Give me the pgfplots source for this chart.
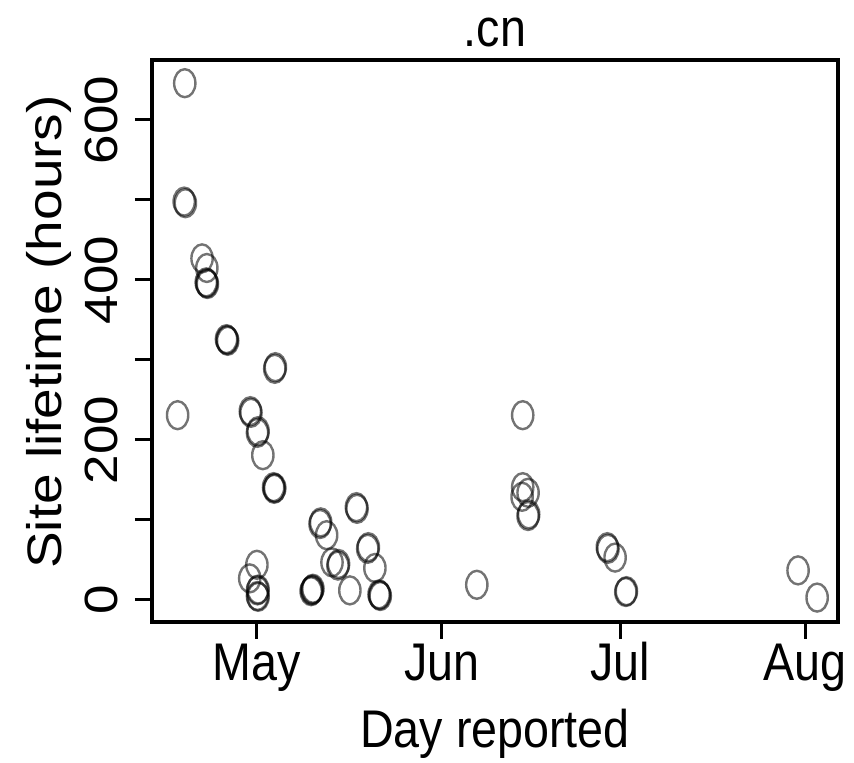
\documentclass[border=0pt]{standalone}
\usepackage{pgfplots}
\pgfplotsset{compat=1.18}
\usepackage{fontspec}
\setmainfont{Liberation Sans}
\newcommand\bigf{\fontsize{26.5pt}{30pt}\selectfont}

% x = days after 1 May, y = hours; repeated rows make the darker rings
\pgfplotstableread{
x y
-12.1 646
-12.0 496
-12.2 498
-13.3 231
-9.2 427
-8.4 415
-8.3 395
-8.5 397
-8.4 396
-5.0 325
-4.9 324
-5.1 326
3.0 289
3.1 291
-1.0 234
-1.1 236
0.1 209
0.2 211
1.0 181
2.9 139
2.8 141
3.0 140
0.0 44
-1.2 27
0.1 12
0.2 13
0.2 4
0.1 5
16.8 114
16.7 116
10.6 95
10.7 97
11.7 81
18.6 64
18.7 66
13.6 43
13.7 45
12.6 47
19.8 40
9.1 11
9.3 13
9.2 12
9.4 14
15.6 12
20.6 6
20.5 7
20.7 5
36.9 19
44.6 231
44.6 141
45.5 134
44.5 129
45.5 105
45.6 107
58.9 64
58.8 66
60.1 53
61.9 10
62.0 11
90.8 37
94.0 3
}\lifetime

\begin{document}
\begin{tikzpicture}
\begin{axis}[
    scale only axis,
    width=343pt, height=281pt,
    xmin=-17.6, xmax=97.5,
    ymin=-27.5, ymax=675,
    xtick={0,31,61,92},
    xticklabels={May,Jun,Jul,Aug},
    ytick={0,100,200,300,400,500,600},
    yticklabels={0,,200,,400,,600},
    xtick pos=bottom, ytick pos=left,
    tick align=outside,
    major tick length=8.5pt,
    every tick/.style={black, line width=1.5pt},
    axis line style={line width=1.75pt},
    /pgf/number format/assume math mode=true,
    tick label style={font=\bigf},
    xticklabel style={anchor=base, yshift=-21pt, xscale=0.88},
    yticklabel style={rotate=90, anchor=base, yshift=8.5pt, yscale=0.88},
    title={.cn},
    title style={font=\bigf, at={(0.5,1)}, anchor=base, yshift=0.5pt, xscale=0.88},
    xlabel={Day reported},
    xlabel style={font=\bigf, at={(axis description cs:0.5,0)}, anchor=base, yshift=-63pt, xscale=0.88},
    ylabel={Site lifetime (hours)},
    ylabel style={font=\fontsize{27.5pt}{30pt}\selectfont, at={(axis description cs:0,0.5)}, anchor=base, yshift=45pt, xshift=4.5pt, yscale=0.88},
]
\addplot[only marks, mark=o, mark size=7pt,
    mark options={xscale=0.76, line width=1.2pt, draw=black, draw opacity=0.55}]
    table[x=x, y=y] {\lifetime};
\end{axis}
\pgfresetboundingbox
\path ([shift={(-76pt,-70.5pt)}]current axis.south west) rectangle ([shift={(8pt,30pt)}]current axis.north east);
\end{tikzpicture}
\end{document}
